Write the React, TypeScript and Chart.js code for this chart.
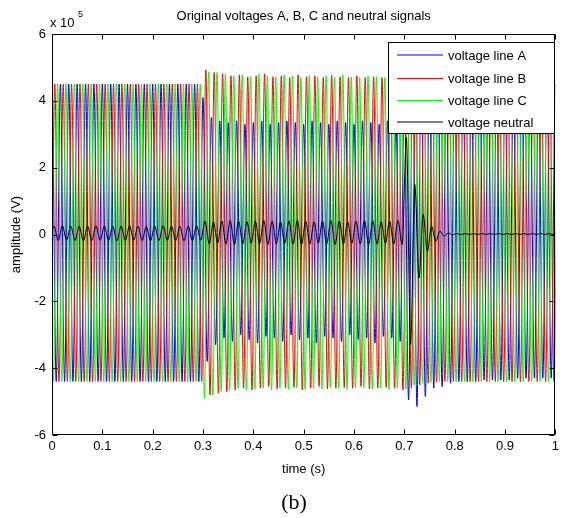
import React, { useEffect, useRef } from "react";
import { Chart, registerables } from "chart.js";

Chart.register(...registerables);

// ---------- data (amplitudes in units of 1e5 V) ----------
const seriesNames = ["voltage line A", "voltage line B", "voltage line C", "voltage neutral"];
const seriesColors = ["#0000ff", "#ff0000", "#00ff00", "#000000"];
const xTickLabels = ["0", "0.1", "0.2", "0.3", "0.4", "0.5", "0.6", "0.7", "0.8", "0.9", "1"];
const yTickValues = [-6, -4, -2, 0, 2, 4, 6];

// sampled waveform: one positive and one negative extremum per 60 Hz cycle
const cycleSeconds = 1 / 60;
// time of the first positive peak of each signal (s)
const firstPeakTimes = [0, 1 / 180, 2 / 180, 0.004];

const peaksA = [
  4.5, 4.5, 4.5, 4.5, 4.5, 4.5, 4.5, 4.5, 4.5, 4.5, 4.5, 4.5, 4.5, 4.5, 4.5, 4.5, 4.5, 4.5,
  4.1, 3.5, 3.4, 3.35, 3.4, 3.3, 3.35, 3.4, 3.3, 3.35, 3.4, 3.35, 3.3, 3.4, 3.35, 3.3, 3.4, 3.35, 3.3, 3.4, 3.35, 3.3, 3.4, 3.35,
  4.2, 4.8, 4.9, 4.7, 4.6, 4.55, 4.5, 4.5, 4.5, 4.5, 4.5, 4.5, 4.5, 4.5, 4.5, 4.5, 4.5, 4.5,
];
const troughsA = [
  -4.4, -4.4, -4.4, -4.4, -4.4, -4.4, -4.4, -4.4, -4.4, -4.4, -4.4, -4.4, -4.4, -4.4, -4.4, -4.4, -4.4, -4.4,
  -3.8, -3.3, -3.1, -3.2, -3.0, -3.15, -3.25, -3.05, -3.1, -3.2, -3.0, -3.15, -3.1, -3.25, -3.05, -3.1, -3.2, -3.0, -3.15, -3.1, -3.25, -3.05, -3.1, -3.2,
  -4.95, -5.15, -4.85, -4.6, -4.55, -4.45, -4.4, -4.4, -4.4, -4.35, -4.35, -4.35, -4.35, -4.3, -4.3, -4.3, -4.3, -4.3,
];
const peaksB = [
  4.5, 4.5, 4.5, 4.5, 4.5, 4.5, 4.5, 4.5, 4.5, 4.5, 4.5, 4.5, 4.5, 4.5, 4.5, 4.5, 4.5, 4.5,
  4.93, 4.85, 4.8, 4.75, 4.78, 4.72, 4.75, 4.8, 4.72, 4.75, 4.7, 4.78, 4.72, 4.75, 4.7, 4.76, 4.72, 4.7, 4.75, 4.7, 4.72, 4.7, 4.75, 4.7,
  4.7, 4.6, 4.55, 4.5, 4.5, 4.5, 4.5, 4.5, 4.5, 4.5, 4.5, 4.5, 4.5, 4.5, 4.5, 4.5, 4.5, 4.5,
];
const troughsB = [
  -4.4, -4.4, -4.4, -4.4, -4.4, -4.4, -4.4, -4.4, -4.4, -4.4, -4.4, -4.4, -4.4, -4.4, -4.4, -4.4, -4.4, -4.4,
  -4.8, -4.75, -4.7, -4.65, -4.6, -4.65, -4.6, -4.55, -4.62, -4.6, -4.58, -4.65, -4.6, -4.55, -4.62, -4.6, -4.58, -4.6, -4.55, -4.62, -4.6, -4.58, -4.6, -4.65,
  -4.6, -4.5, -4.45, -4.42, -4.4, -4.4, -4.4, -4.4, -4.4, -4.4, -4.4, -4.4, -4.4, -4.4, -4.4, -4.4, -4.4, -4.4,
];
const peaksC = [
  4.5, 4.5, 4.5, 4.5, 4.5, 4.5, 4.5, 4.5, 4.5, 4.5, 4.5, 4.5, 4.5, 4.5, 4.5, 4.5, 4.5, 4.5,
  4.87, 4.85, 4.8, 4.75, 4.78, 4.72, 4.8, 4.75, 4.72, 4.78, 4.75, 4.7, 4.76, 4.72, 4.75, 4.7, 4.78, 4.72, 4.7, 4.75, 4.72, 4.7, 4.74, 4.7,
  4.65, 4.6, 4.55, 4.5, 4.5, 4.5, 4.5, 4.5, 4.5, 4.5, 4.5, 4.5, 4.5, 4.5, 4.5, 4.5, 4.5, 4.5,
];
const troughsC = [
  -4.4, -4.4, -4.4, -4.4, -4.4, -4.4, -4.4, -4.4, -4.4, -4.4, -4.4, -4.4, -4.4, -4.4, -4.4, -4.4, -4.4, -4.9,
  -4.8, -4.7, -4.65, -4.6, -4.65, -4.62, -4.6, -4.66, -4.6, -4.62, -4.58, -4.64, -4.6, -4.62, -4.58, -4.6, -4.64, -4.6, -4.58, -4.62, -4.6, -4.64, -4.6, -4.62,
  -4.5, -4.45, -4.42, -4.4, -4.4, -4.4, -4.4, -4.4, -4.4, -4.4, -4.4, -4.4, -4.4, -4.4, -4.4, -4.4, -4.4, -4.4,
];
const peaksN = [
  0.25, 0.26, 0.25, 0.24, 0.25, 0.26, 0.25, 0.24, 0.25, 0.26, 0.25, 0.24, 0.25, 0.26, 0.25, 0.24, 0.25, 0.26,
  0.4, 0.38, 0.4, 0.42, 0.4, 0.38, 0.4, 0.42, 0.4, 0.38, 0.4, 0.42, 0.4, 0.38, 0.4, 0.42, 0.4, 0.38, 0.4, 0.42, 0.4, 0.38, 0.4, 0.42,
  2.9, 1.5, 0.6, 0.25, 0.1, 0.05, 0.03, 0.03, 0.03, 0.03, 0.03, 0.03, 0.03, 0.03, 0.03, 0.03, 0.03, 0.03,
];
const troughsN = [
  -0.18, -0.17, -0.18, -0.19, -0.18, -0.17, -0.18, -0.19, -0.18, -0.17, -0.18, -0.19, -0.18, -0.17, -0.18, -0.19, -0.18, -0.17,
  -0.28, -0.26, -0.28, -0.3, -0.28, -0.26, -0.28, -0.3, -0.28, -0.26, -0.28, -0.3, -0.28, -0.26, -0.28, -0.3, -0.28, -0.26, -0.28, -0.3, -0.28, -0.26, -0.28, -0.3,
  -3.3, -1.3, -0.5, -0.2, -0.05, -0.01, 0, 0, 0, 0, 0, 0, 0, 0, 0, 0, 0, 0,
];

const seriesPeaks = [peaksA, peaksB, peaksC, peaksN];
const seriesTroughs = [troughsA, troughsB, troughsC, troughsN];

const FONT = '"Liberation Sans", Arial, sans-serif';

function buildWave(peaks: number[], troughs: number[], firstPeak: number) {
  const pts: { x: number; y: number }[] = [];
  const n = peaks.length;
  for (let k = -1; k <= n; k++) {
    const i = Math.min(Math.max(k, 0), n - 1);
    const t = firstPeak + k * cycleSeconds;
    pts.push({ x: t, y: peaks[i] });
    pts.push({ x: t + cycleSeconds / 2, y: troughs[i] });
  }
  return pts;
}

const decorPlugin = {
  id: "decor",
  afterDatasetsDraw(chart: any) {
    const { ctx, chartArea: a, scales } = chart;
    const L = Math.round(a.left) + 0.5;
    const R = Math.round(a.right) - 0.5;
    const T = Math.round(a.top) + 0.5;
    const B = Math.round(a.bottom) - 0.5;
    ctx.save();
    ctx.strokeStyle = "#000";
    ctx.lineWidth = 1;
    ctx.beginPath();
    ctx.rect(L, T, R - L, B - T);
    ctx.stroke();
    // inward ticks
    const tl = 5;
    ctx.beginPath();
    xTickLabels.forEach((_, i) => {
      const px = Math.round(scales.x.getPixelForValue(i / 10)) + 0.5;
      ctx.moveTo(px, B);
      ctx.lineTo(px, B - tl);
      ctx.moveTo(px, T);
      ctx.lineTo(px, T + tl);
    });
    yTickValues.forEach((v) => {
      const py = Math.round(scales.y.getPixelForValue(v)) + 0.5;
      ctx.moveTo(L, py);
      ctx.lineTo(L + tl, py);
      ctx.moveTo(R, py);
      ctx.lineTo(R - tl, py);
    });
    ctx.stroke();

    // legend
    const lx = 388.5, ly = 42.5, lw = 166, lh = 91;
    ctx.fillStyle = "#fff";
    ctx.fillRect(lx, ly, lw, lh);
    ctx.strokeStyle = "#000";
    ctx.strokeRect(lx, ly, lw, lh);
    const rows = [55, 78, 100, 122];
    const rowOffsets = [0, 0.5, 0.5, 0];
    ctx.font = `13px ${FONT}`;
    ctx.textBaseline = "middle";
    ctx.textAlign = "left";
    seriesNames.forEach((name, i) => {
      ctx.strokeStyle = seriesColors[i];
      ctx.beginPath();
      ctx.moveTo(397, rows[i] + rowOffsets[i]);
      ctx.lineTo(443, rows[i] + rowOffsets[i]);
      ctx.stroke();
      ctx.fillStyle = "#000";
      ctx.fillText(name, 448, rows[i] + 1);
    });

    // texts
    ctx.fillStyle = "#000";
    ctx.textAlign = "center";
    ctx.textBaseline = "middle";
    ctx.font = `13px ${FONT}`;
    ctx.fillText("Original voltages A, B, C and neutral signals", (a.left + a.right) / 2, 16);
    ctx.fillText("time (s)", (a.left + a.right) / 2, 469);
    ctx.textAlign = "left";
    ctx.fillText("x 10", 50, 23);
    ctx.font = `9px ${FONT}`;
    ctx.fillText("5", 78, 15);
    ctx.save();
    ctx.translate(16, (a.top + a.bottom) / 2);
    ctx.rotate(-Math.PI / 2);
    ctx.textAlign = "center";
    ctx.font = `13px ${FONT}`;
    ctx.fillText("amplitude (V)", 0, 0);
    ctx.restore();
    ctx.font = `22px "Liberation Serif", "Times New Roman", serif`;
    ctx.textAlign = "center";
    ctx.fillText("(b)", 294, 503);
    ctx.restore();
  },
};

export default function App() {
  const ref = useRef<HTMLCanvasElement | null>(null);
  useEffect(() => {
    document.body.style.margin = "0";
    if (!ref.current) return;
    const datasets = seriesNames.map((name, i) => ({
      label: name,
      data: buildWave(seriesPeaks[i], seriesTroughs[i], firstPeakTimes[i]),
      borderColor: seriesColors[i],
      backgroundColor: seriesColors[i],
      borderWidth: 1,
      pointRadius: 0,
      cubicInterpolationMode: "monotone",
      fill: false,
      order: 4 - i,
    }));
    const chart = new Chart(ref.current, {
      type: "line",
      data: { datasets },
      plugins: [decorPlugin],
      options: {
        responsive: false,
        animation: false,
        devicePixelRatio: 1,
        layout: { padding: { left: 0, right: 6, top: 34, bottom: 0 } },
        plugins: {
          legend: { display: false },
          title: { display: false },
          tooltip: { enabled: false },
        },
        scales: {
          x: {
            type: "linear",
            min: 0,
            max: 1,
            afterFit: (s: any) => {
              s.height = 83;
            },
            grid: { display: false, drawTicks: false },
            border: { display: false },
            ticks: {
              stepSize: 0.1,
              padding: 4,
              color: "#000",
              autoSkip: false,
              maxRotation: 0,
              font: { family: FONT, size: 13 },
              callback: (v: any) => xTickLabels[Math.round(Number(v) * 10)] ?? "",
            },
          },
          y: {
            type: "linear",
            min: -6,
            max: 6,
            afterFit: (s: any) => {
              s.width = 52;
            },
            grid: { display: false, drawTicks: false },
            border: { display: false },
            ticks: {
              stepSize: 2,
              padding: 6,
              color: "#000",
              font: { family: FONT, size: 13 },
              callback: (v: any) => String(v),
            },
          },
        },
      } as any,
    });
    return () => chart.destroy();
  }, []);
  return (
    <div style={{ width: 563, height: 518, position: "relative", background: "#fff" }}>
      <canvas ref={ref} width={563} height={518} style={{ display: "block" }} />
    </div>
  );
}
